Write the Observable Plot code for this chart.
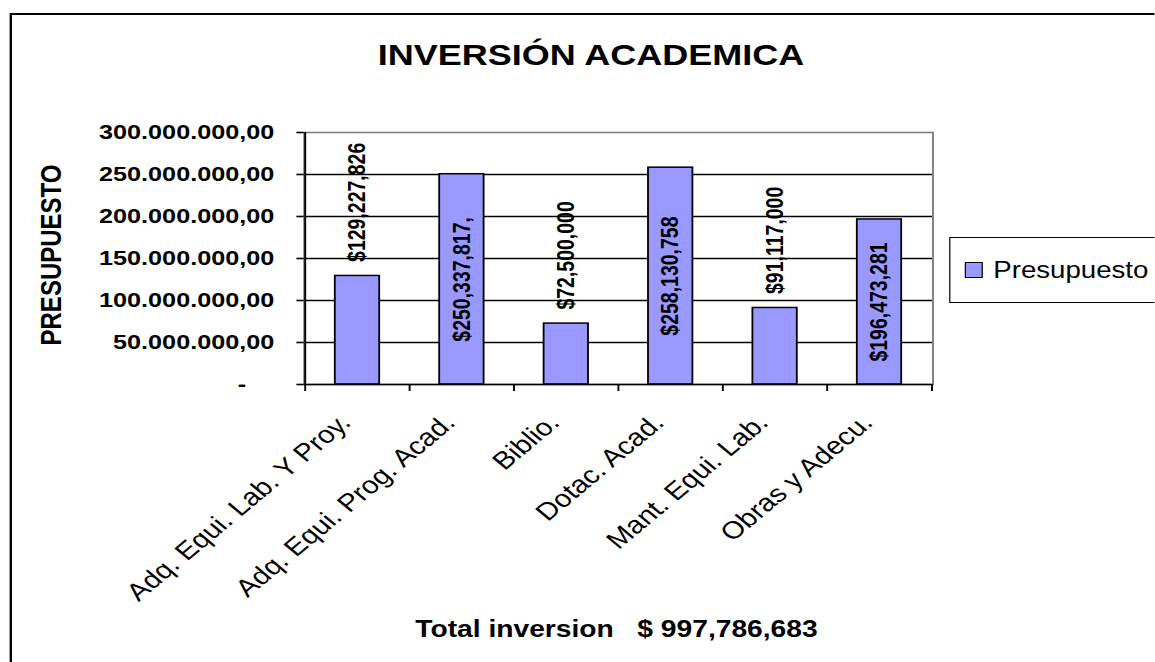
<!DOCTYPE html>
<html>
<head>
<meta charset="utf-8">
<script src="https://cdn.jsdelivr.net/npm/d3@7"></script>
<script src="https://cdn.jsdelivr.net/npm/@observablehq/plot@0.6"></script>
<style>
  html, body { margin: 0; padding: 0; overflow: hidden; background: #fff; }
  #stage {
    position: absolute; left: 0; top: 0; width: 962px; height: 662px;
    transform: scale(1.2, 1); transform-origin: 0 0; overflow: hidden;
    font-family: "Liberation Sans", Arial, sans-serif; color: #000;
  }
  #frame { position: absolute; left: 7.5px; top: 13px; width: 1100px; height: 800px; border: 2px solid #000; box-sizing: border-box; }
  #title { position: absolute; left: 192.5px; top: 39.6px; width: 600px; text-align: center; font-size: 30px; line-height: 30px; font-weight: bold; white-space: nowrap; }
  #ylabel { position: absolute; left: 43px; top: 255px; font-size: 24px; line-height: 24px; font-weight: bold; white-space: nowrap; transform: translate(-50%, -50%) rotate(-90deg); }
  #caption { position: absolute; left: 213.75px; top: 618px; width: 600px; text-align: center; font-size: 23.5px; line-height: 23.5px; font-weight: bold; white-space: pre; }
  #legend { position: absolute; left: 790.8px; top: 237px; width: 220px; height: 66px; border: 1.5px solid #000; box-sizing: border-box; display: flex; align-items: center; padding-left: 12px; font-size: 23px; }
  #legend .sw { width: 13px; height: 14px; background: #9999ff; border: 1px solid #000; margin-right: 9px; flex: none; }
  #chart { position: absolute; left: 0; top: 0; }
</style>
</head>
<body>
<div id="stage">
  <div id="frame"></div>
  <div id="title"></div>
  <div id="ylabel"></div>
  <div id="chart"></div>
  <div id="legend"><span class="sw"></span><span id="legendText"></span></div>
  <div id="caption"></div>
</div>
<script>
const chartTitle = "INVERSIÓN ACADEMICA";
const yTitle = "PRESUPUESTO";
const seriesName = "Presupuesto";
const totalCaption = "Total inversion   $ 997,786,683";
const categories = ["Adq. Equi. Lab. Y Proy.", "Adq. Equi. Prog. Acad.", "Biblio.", "Dotac. Acad.", "Mant. Equi. Lab.", "Obras y Adecu."];
const presupuesto = [129227826, 250337817, 72500000, 258130758, 91117000, 196473281];
const barLabels = ["$129,227,826", "$250,337,817,", "$72,500,000", "$258,130,758", "$91,117,000", "$196,473,281"];
const yTicks = [0, 50000000, 100000000, 150000000, 200000000, 250000000, 300000000];

document.getElementById("title").textContent = chartTitle;
document.getElementById("ylabel").textContent = yTitle;
document.getElementById("legendText").textContent = seriesName;
document.getElementById("caption").textContent = totalCaption;

const rows = categories.map((c, i) => ({cat: c, value: presupuesto[i], label: barLabels[i]}));

const W = 962, H = 620, mL = 253, mR = 185, mT = 132, mB = 236;
const plotW = W - mL - mR, plotH = H - mT - mB;
const step = plotW / categories.length;

const loc = d3.formatLocale({decimal: ",", thousands: ".", grouping: [3], currency: ["$", ""]});
const fmt = loc.format(",.2f");
const yFmt = d => d === 0 ? "-\u00a0\u00a0\u00a0\u00a0" : fmt(d);

const yMax = yTicks[yTicks.length - 1];
const isInside = d => d.value > yMax / 2;

const chart = Plot.plot({
  width: W, height: H,
  marginLeft: mL, marginRight: mR, marginTop: mT, marginBottom: mB,
  style: {fontFamily: '"Liberation Sans", Arial, sans-serif', color: "#000", background: "transparent"},
  x: {domain: categories, paddingInner: 0.58, paddingOuter: 0.29, axis: null},
  y: {domain: [0, yMax], axis: null},
  marks: [
    Plot.ruleY(yTicks.filter(d => d > 0 && d < yMax), {stroke: "#000", strokeWidth: 1.3}),
    Plot.frame({stroke: "#808080", strokeWidth: 1.6}),
    Plot.barY(rows, {x: "cat", y: "value", fill: "#9999ff", stroke: "#000", strokeWidth: 1.5}),
    Plot.ruleY([0], {stroke: "#000", strokeWidth: 1.6}),
    Plot.ruleX([categories[0]], {x: d => d, dx: -step / 2, stroke: "#000", strokeWidth: 1.6}),
    Plot.ruleX(categories, {x: d => d, dx: -step / 2, insetTop: plotH, insetBottom: -7, stroke: "#000", strokeWidth: 1.6}),
    Plot.ruleX([categories[categories.length - 1]], {x: d => d, dx: step / 2, insetTop: plotH, insetBottom: -7, stroke: "#000", strokeWidth: 1.6}),
    Plot.axisY({ticks: yTicks, tickFormat: yFmt, tickSize: 6, tickPadding: 19, fontSize: 21, fontWeight: "bold", label: null, stroke: "#000", strokeWidth: 1.6}),
    Plot.axisX({tickSize: 0, tickRotate: -45, tickPadding: 34, dx: -10, fontSize: 24.5, label: null}),
    Plot.text(rows.filter(d => !isInside(d)), {x: "cat", y: "value", text: "label", rotate: -90, textAnchor: "start", dy: -14, fontSize: 19.5, fontWeight: "bold", fill: "#000"}),
    Plot.text(rows.filter(isInside), {x: "cat", y: d => d.value / 2, text: "label", rotate: -90, textAnchor: "middle", fontSize: 19.5, fontWeight: "bold", fill: "#000"})
  ]
});
document.getElementById("chart").appendChild(chart);
</script>
</body>
</html>
